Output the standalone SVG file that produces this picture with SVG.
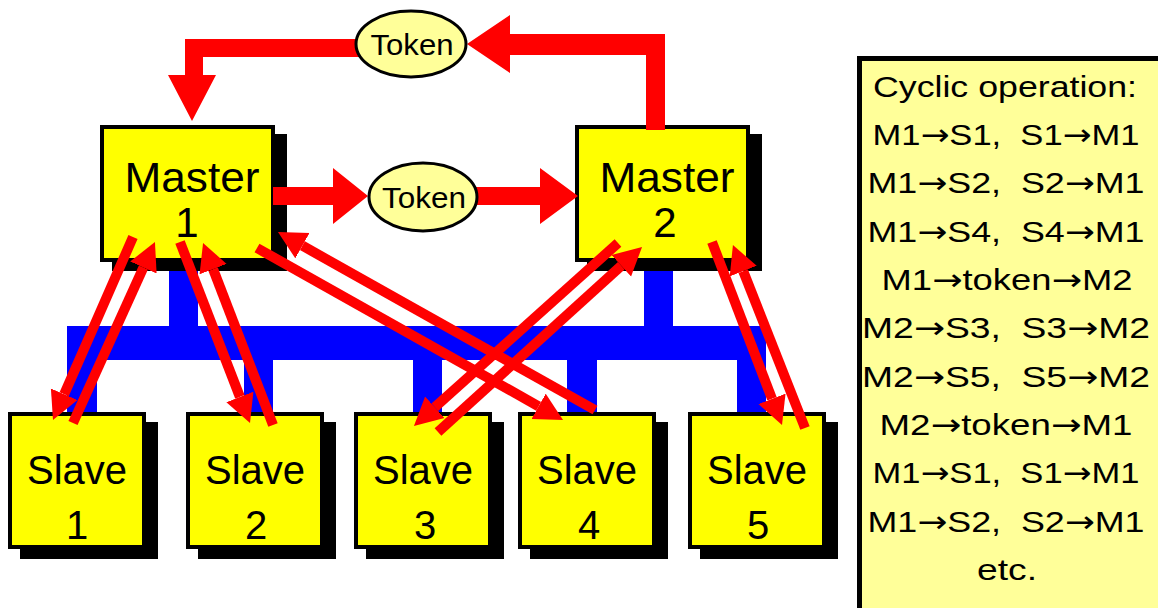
<svg xmlns="http://www.w3.org/2000/svg" width="1158" height="608" viewBox="0 0 1158 608">
<style>
.shadow{fill:#000}
.box{fill:#ffff00;stroke:#000;stroke-width:4}
.tok{fill:#ffff99;stroke:#000;stroke-width:3}
.bus{fill:#0000ff}
.lbl{font-family:"Liberation Sans",Arial,sans-serif;fill:#000;text-anchor:middle}
.big{font-size:42px}
.sl{font-size:40px}
.tk{font-size:29px}
.pt{font-size:30px;white-space:pre}
.ar{font-family:"DejaVu Sans",sans-serif}
.arr{stroke:#ff0000;stroke-width:10;fill:none;marker-end:url(#head)}
.fat{fill:#ff0000}
</style>
<defs>
<marker id="head" markerUnits="userSpaceOnUse" markerWidth="30" markerHeight="30" viewBox="0 0 30 30" refX="0" refY="15" orient="auto">
<path d="M0,0.5 L28,15 L0,29.5 Z" fill="#ff0000"/>
</marker>
</defs>
<rect width="1158" height="608" fill="#fff"/>
<g id="bus">
<rect class="bus" x="67" y="326" width="699" height="34"/>
<rect class="bus" x="169" y="262" width="29" height="66"/>
<rect class="bus" x="644" y="262" width="29" height="66"/>
<rect class="bus" x="67" y="358" width="30" height="56"/>
<rect class="bus" x="244" y="358" width="29" height="56"/>
<rect class="bus" x="413" y="358" width="29" height="56"/>
<rect class="bus" x="567" y="358" width="30" height="56"/>
<rect class="bus" x="737" y="358" width="29" height="56"/>
</g>
<g id="master1">
<rect class="shadow" x="112" y="134" width="175" height="137"/>
<rect class="box" x="102" y="127" width="171" height="133"/>
<text class="lbl big" x="192" y="192" textLength="135" lengthAdjust="spacingAndGlyphs">Master</text>
<text class="lbl big" x="187" y="237">1</text>
</g>
<g id="master2">
<rect class="shadow" x="587" y="134" width="175" height="137"/>
<rect class="box" x="577" y="127" width="171" height="133"/>
<text class="lbl big" x="667" y="192" textLength="135" lengthAdjust="spacingAndGlyphs">Master</text>
<text class="lbl big" x="665" y="237">2</text>
</g>
<g id="slave1">
<rect class="shadow" x="20" y="422" width="138" height="137"/>
<rect class="box" x="10" y="414" width="134" height="133"/>
<text class="lbl sl" x="77" y="484">Slave</text>
<text class="lbl sl" x="77" y="539">1</text>
</g>
<g id="slave2">
<rect class="shadow" x="198" y="422" width="138" height="137"/>
<rect class="box" x="188" y="414" width="134" height="133"/>
<text class="lbl sl" x="255" y="484">Slave</text>
<text class="lbl sl" x="256" y="539">2</text>
</g>
<g id="slave3">
<rect class="shadow" x="366" y="422" width="138" height="137"/>
<rect class="box" x="356" y="414" width="134" height="133"/>
<text class="lbl sl" x="423" y="484">Slave</text>
<text class="lbl sl" x="425" y="539">3</text>
</g>
<g id="slave4">
<rect class="shadow" x="530" y="422" width="138" height="137"/>
<rect class="box" x="520" y="414" width="134" height="133"/>
<text class="lbl sl" x="587" y="484">Slave</text>
<text class="lbl sl" x="589" y="539">4</text>
</g>
<g id="slave5">
<rect class="shadow" x="700" y="422" width="138" height="137"/>
<rect class="box" x="690" y="414" width="134" height="133"/>
<text class="lbl sl" x="757" y="484">Slave</text>
<text class="lbl sl" x="758" y="539">5</text>
</g>
<g id="connectors">
<path class="fat" d="M646,130 L646,55 L510,55 L510,73 L467,44 L510,15 L510,34 L665,34 L665,130 Z"/>
<path class="fat" d="M360,39 L185,39 L185,75 L168,75 L192,121 L216,75 L203,75 L203,57 L360,57 Z"/>
<path class="fat" d="M273,187 L333,187 L333,168 L368,196 L333,224 L333,205 L273,205 Z"/>
<path class="fat" d="M470,187 L540,187 L540,168 L578,196 L540,224 L540,205 L470,205 Z"/>
<line class="arr" x1="133" y1="237" x2="64.2" y2="394.3"/>
<line class="arr" x1="73" y1="423" x2="143.4" y2="267.5"/>
<line class="arr" x1="180" y1="242" x2="239.9" y2="396.9"/>
<line class="arr" x1="273" y1="425" x2="213.1" y2="269.1"/>
<line class="arr" x1="257" y1="248" x2="538.6" y2="406.3"/>
<line class="arr" x1="595" y1="410" x2="302.4" y2="245.7"/>
<line class="arr" x1="618" y1="243" x2="434.8" y2="407.3"/>
<line class="arr" x1="438" y1="432" x2="621.3" y2="265.8"/>
<line class="arr" x1="712" y1="242" x2="772" y2="398.8"/>
<line class="arr" x1="805" y1="428" x2="743.2" y2="271.1"/>
</g>
<g id="token-top">
<ellipse class="tok" cx="411" cy="44" rx="55" ry="33"/>
<text class="lbl tk" x="412" y="55" textLength="83" lengthAdjust="spacingAndGlyphs">Token</text>
</g>
<g id="token-mid">
<ellipse class="tok" cx="423" cy="197" rx="54" ry="34"/>
<text class="lbl tk" x="424" y="208" textLength="84" lengthAdjust="spacingAndGlyphs">Token</text>
</g>
<g id="panel">
<rect x="859.5" y="58.5" width="320" height="600" fill="#ffff99" stroke="#000" stroke-width="5"/>
<text class="lbl pt" x="1005" y="97" textLength="264" lengthAdjust="spacingAndGlyphs">Cyclic operation:</text>
<text class="lbl pt" x="1006" y="145" textLength="267" lengthAdjust="spacingAndGlyphs" xml:space="preserve">M1<tspan class="ar">→</tspan>S1,  S1<tspan class="ar">→</tspan>M1</text>
<text class="lbl pt" x="1006" y="193" textLength="277" lengthAdjust="spacingAndGlyphs" xml:space="preserve">M1<tspan class="ar">→</tspan>S2,  S2<tspan class="ar">→</tspan>M1</text>
<text class="lbl pt" x="1006" y="242" textLength="277" lengthAdjust="spacingAndGlyphs" xml:space="preserve">M1<tspan class="ar">→</tspan>S4,  S4<tspan class="ar">→</tspan>M1</text>
<text class="lbl pt" x="1007" y="290" textLength="251" lengthAdjust="spacingAndGlyphs">M1<tspan class="ar">→</tspan>token<tspan class="ar">→</tspan>M2</text>
<text class="lbl pt" x="1006" y="338" textLength="288" lengthAdjust="spacingAndGlyphs" xml:space="preserve">M2<tspan class="ar">→</tspan>S3,  S3<tspan class="ar">→</tspan>M2</text>
<text class="lbl pt" x="1006" y="387" textLength="288" lengthAdjust="spacingAndGlyphs" xml:space="preserve">M2<tspan class="ar">→</tspan>S5,  S5<tspan class="ar">→</tspan>M2</text>
<text class="lbl pt" x="1006" y="435" textLength="253" lengthAdjust="spacingAndGlyphs">M2<tspan class="ar">→</tspan>token<tspan class="ar">→</tspan>M1</text>
<text class="lbl pt" x="1006" y="483" textLength="267" lengthAdjust="spacingAndGlyphs" xml:space="preserve">M1<tspan class="ar">→</tspan>S1,  S1<tspan class="ar">→</tspan>M1</text>
<text class="lbl pt" x="1006" y="532" textLength="277" lengthAdjust="spacingAndGlyphs" xml:space="preserve">M1<tspan class="ar">→</tspan>S2,  S2<tspan class="ar">→</tspan>M1</text>
<text class="lbl pt" x="1007" y="580" textLength="60" lengthAdjust="spacingAndGlyphs">etc.</text>
</g>
</svg>
